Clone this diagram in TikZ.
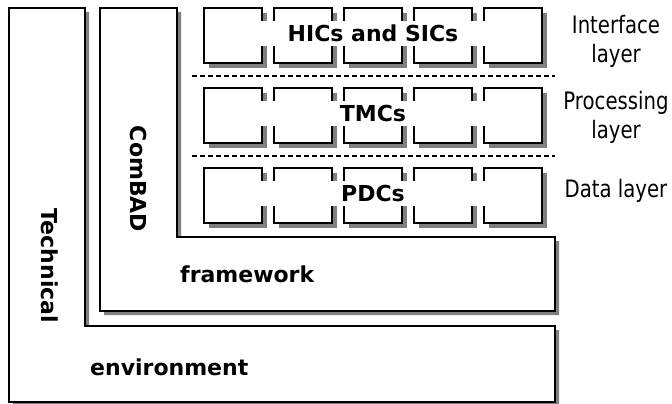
\documentclass[tikz,border=0pt]{standalone}
\usepackage{fontspec}
\setmainfont{DejaVu Sans}
\newfontfamily\sidefont[FakeStretch=0.82]{DejaVu Sans}
\usetikzlibrary{shadows}

\begin{document}
\begin{tikzpicture}
  [
    x=1pt, y=-1pt,
    layerbox/.style={draw=black, fill=white, line width=1.6pt,
      drop shadow={shadow xshift=4pt, shadow yshift=-4pt, fill=gray, opacity=1}},
    cell/.style={draw=black, fill=white, line width=1.6pt,
      minimum width=58pt, minimum height=55pt, inner sep=0pt,
      drop shadow={shadow xshift=5pt, shadow yshift=-5pt, fill=gray, opacity=1}},
    band/.style={fill=white, minimum width=228pt, minimum height=25pt,
      inner sep=0pt, font=\bfseries\fontsize{22}{26}\selectfont},
    title/.style={font=\bfseries\fontsize{22}{26}\selectfont, inner sep=0pt},
    side/.style={font=\sidefont\fontsize{24}{29}\selectfont, align=center, inner sep=0pt},
    sep/.style={draw=black, line width=1.6pt, dash pattern=on 5pt off 3pt}
  ]

  \useasboundingbox (0,0) rectangle (672,404);

  % Technical environment and ComBAD framework
  \draw [layerbox] (9,8) -- (85,8) -- (85,326) -- (555,326)
        -- (555,402) -- (9,402) -- cycle;
  \draw [layerbox] (100,8) -- (177,8) -- (177,237) -- (555,237)
        -- (555,311) -- (100,311) -- cycle;

  \node (h1) at (233,35.5) [cell] {};
  \node (h2) at (303,35.5) [cell] {};
  \node (h3) at (373,35.5) [cell] {};
  \node (h4) at (443,35.5) [cell] {};
  \node (h5) at (513,35.5) [cell] {};

  \node (t1) at (233,115.5) [cell] {};
  \node (t2) at (303,115.5) [cell] {};
  \node (t3) at (373,115.5) [cell] {};
  \node (t4) at (443,115.5) [cell] {};
  \node (t5) at (513,115.5) [cell] {};

  \node (p1) at (233,195.5) [cell] {};
  \node (p2) at (303,195.5) [cell] {};
  \node (p3) at (373,195.5) [cell] {};
  \node (p4) at (443,195.5) [cell] {};
  \node (p5) at (513,195.5) [cell] {};

  \node (hics) at (h3) [band, yshift=2pt] {HICs and SICs};
  \node (tmcs) at (t3) [band, yshift=2pt] {TMCs};
  \node (pdcs) at (p3) [band, yshift=2pt] {PDCs};

  \draw [sep] (192,76) -- (555,76);
  \draw [sep] (192,156) -- (555,156);

  \node (technical)   at (50,266)  [title, rotate=-90] {Technical};
  \node (combad)      at (139,179) [title, rotate=-90] {ComBAD};
  \node (framework)   at (180,282) [title, anchor=base west] {framework};
  \node (environment) at (90,375)  [title, anchor=base west] {environment};

  \node (ilayer) at (616,41)  [side] {Interface\\layer};
  \node (player) at (616,117) [side] {Processing\\layer};
  \node (dlayer) at (616,197) [side, anchor=base] {Data layer};
\end{tikzpicture}
\end{document}
